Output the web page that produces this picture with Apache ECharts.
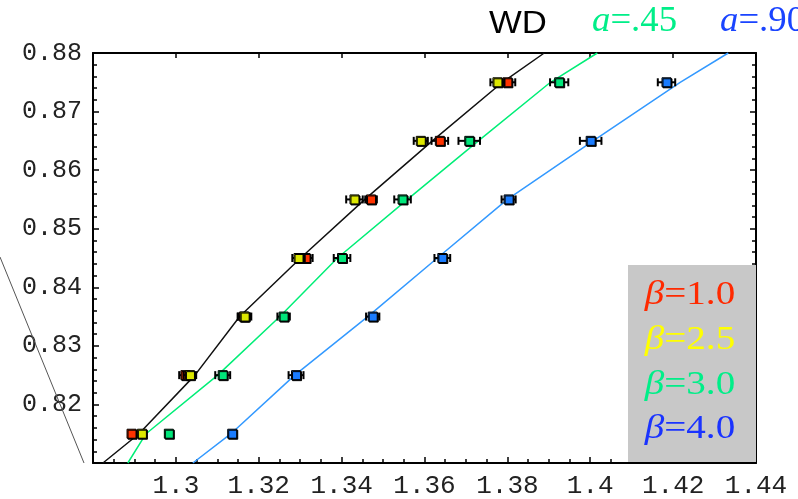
<!DOCTYPE html>
<html>
<head>
<meta charset="utf-8">
<script src="https://cdn.jsdelivr.net/npm/echarts@6/dist/echarts.min.js"></script>
<style>
html,body{margin:0;padding:0;background:#fff;}
#chart{width:798px;height:499px;}
</style>
</head>
<body>
<div id="chart"></div>
<script>
// ---- data ----
const rows = [0.815, 0.825, 0.835, 0.845, 0.855, 0.865, 0.875];
const redX    = [1.2893, 1.3023, 1.3164, 1.3313, 1.3471, 1.3637, 1.3800];
const yellowX = [1.2918, 1.3034, 1.3166, 1.3296, 1.3431, 1.3591, 1.3776];
const greenX  = [1.2983, 1.3113, 1.3260, 1.3401, 1.3547, 1.3708, 1.3925];
const blueX   = [1.3136, 1.3290, 1.3475, 1.3643, 1.3803, 1.4001, 1.4184];
const redErr    = [0.0008, 0.0015, 0.0015, 0.0017, 0.0014, 0.0020, 0.0019];
const yellowErr = [0.0008, 0.0015, 0.0016, 0.0015, 0.0020, 0.0017, 0.0017];
const greenErr  = [0.0008, 0.0018, 0.0015, 0.0020, 0.0020, 0.0026, 0.0022];
const blueErr   = [0.0008, 0.0018, 0.0016, 0.0019, 0.0017, 0.0026, 0.0021];

const lineY     = [0.81, 0.815, 0.825, 0.835, 0.845, 0.855, 0.865, 0.875, 0.88];
const wdLineX   = [1.2824, 1.2911, 1.3046, 1.3154, 1.3301, 1.3456, 1.3619, 1.3788, 1.3889];
const a45LineX  = [1.2884, 1.2928, 1.3101, 1.3251, 1.3390, 1.3559, 1.3730, 1.3904, 1.4017];
const a90LineX  = [1.3041, 1.3133, 1.3287, 1.3463, 1.3631, 1.3800, 1.4007, 1.4217, 1.4333];

const xMin = 1.28, xMax = 1.44, xStep = 0.02;
const yMin = 0.81, yMax = 0.88, yStep = 0.01;

const betaLabels = ['1.0', '2.5', '3.0', '4.0'];
const betaColors = ['#ff2a00', '#ffff00', '#00ee88', '#1a33ff'];
const pointColors = ['#ff3300', '#dde800', '#00e67a', '#1a7cff'];

// ---- build ----
const chart = echarts.init(document.getElementById('chart'));

function pairs(xs, ys) { return xs.map((x, i) => [x, ys[i]]); }
function errData(xs, errs) { return xs.map((x, i) => [x, rows[i], errs[i]]); }

function errSeries(xs, errs, z) {
  return {
    type: 'custom', z: z, silent: true,
    data: errData(xs, errs),
    encode: { x: 0, y: 1 },
    renderItem: function (params, api) {
      const y = api.value(1), x = api.value(0), e = api.value(2);
      const p1 = api.coord([x - e, y]);
      const p2 = api.coord([x + e, y]);
      const st = { stroke: '#000', lineWidth: 2 };
      return {
        type: 'group',
        children: [
          { type: 'line', shape: { x1: p1[0], y1: p1[1], x2: p2[0], y2: p2[1] }, style: st },
          { type: 'line', shape: { x1: p1[0], y1: p1[1] - 4, x2: p1[0], y2: p1[1] + 4 }, style: st },
          { type: 'line', shape: { x1: p2[0], y1: p2[1] - 4, x2: p2[0], y2: p2[1] + 4 }, style: st }
        ]
      };
    }
  };
}
function ptSeries(xs, color, z) {
  return {
    type: 'scatter', z: z, silent: true,
    data: pairs(xs, rows),
    symbol: 'rect', symbolSize: 9,
    itemStyle: { color: color, borderColor: '#000', borderWidth: 1, opacity: 1,
      shadowColor: '#000', shadowOffsetX: 1, shadowOffsetY: 1, shadowBlur: 0 }
  };
}
function lineSeries(xs, color) {
  return {
    type: 'line', z: 2, silent: true, showSymbol: false, smooth: false,
    data: pairs(xs, lineY),
    lineStyle: { color: color, width: 1.5 }
  };
}

const fmtX = v => (Math.abs(v - xMin) < 1e-9) ? '' : String(parseFloat(v.toFixed(2)));
const fmtY = v => (Math.abs(v - yMin) < 1e-9) ? '' : v.toFixed(2);

const legendY = [295, 340, 385, 429];
const legendTexts = betaLabels.map((b, i) => ({
  type: 'text', z: 21,
  x: 690, y: legendY[i], scaleX: 1.15,
  style: {
    text: '{g|β}{n|=' + b + '}',
    align: 'center', verticalAlign: 'middle',
    rich: {
      g: { fontFamily: 'Liberation Serif', fontStyle: 'italic', fontSize: 34, fill: betaColors[i] },
      n: { fontFamily: 'Liberation Serif', fontSize: 34, fill: betaColors[i] }
    }
  }
}));

const option = {
  animation: false,
  backgroundColor: '#fff',
  grid: { left: 93, right: 42, top: 53, bottom: 36, containLabel: false },
  xAxis: [{
    type: 'value', min: xMin, max: xMax, interval: xStep,
    axisLine: { show: true, lineStyle: { color: '#000', width: 2 } },
    axisTick: { show: true, inside: true, length: 6, lineStyle: { color: '#000', width: 1.5 } },
    minorTick: { show: true, splitNumber: 4, length: 4, lineStyle: { color: '#000', width: 1.5 } },
    splitLine: { show: false },
    axisLabel: { formatter: fmtX, margin: 10, fontFamily: 'Liberation Mono', fontSize: 26, color: '#222' }
  }, {
    type: 'value', position: 'top', min: xMin, max: xMax, interval: xStep,
    axisLine: { show: true, lineStyle: { color: '#000', width: 2 } },
    axisTick: { show: true, inside: true, length: 5, lineStyle: { color: '#000', width: 1.5 } },
    splitLine: { show: false },
    axisLabel: { show: false }
  }],
  yAxis: [{
    type: 'value', min: yMin, max: yMax, interval: yStep,
    axisLine: { show: true, lineStyle: { color: '#000', width: 2 } },
    axisTick: { show: true, inside: true, length: 6, lineStyle: { color: '#000', width: 1.5 } },
    minorTick: { show: true, splitNumber: 5, length: 4, lineStyle: { color: '#000', width: 1.5 } },
    splitLine: { show: false },
    axisLabel: { formatter: fmtY, margin: 11, fontFamily: 'Liberation Mono', fontSize: 25, color: '#222' }
  }, {
    type: 'value', position: 'right', min: yMin, max: yMax, interval: yStep,
    axisLine: { show: true, lineStyle: { color: '#000', width: 2 } },
    axisTick: { show: true, inside: true, length: 6, lineStyle: { color: '#000', width: 1.5 } },
    minorTick: { show: true, splitNumber: 5, length: 4, lineStyle: { color: '#000', width: 1.5 } },
    splitLine: { show: false },
    axisLabel: { show: false }
  }],
  series: [
    lineSeries(wdLineX, '#111'),
    lineSeries(a45LineX, '#00ee77'),
    lineSeries(a90LineX, '#3399ff'),
    errSeries(redX, redErr, 3), ptSeries(redX, pointColors[0], 4),
    errSeries(yellowX, yellowErr, 5), ptSeries(yellowX, pointColors[1], 6),
    errSeries(greenX, greenErr, 7), ptSeries(greenX, pointColors[2], 8),
    errSeries(blueX, blueErr, 9), ptSeries(blueX, pointColors[3], 10)
  ],
  graphic: [
    { type: 'line', shape: { x1: 0, y1: 257, x2: 84, y2: 463 }, style: { stroke: '#555', lineWidth: 1 }, z: 1 },
    { type: 'rect', shape: { x: 628, y: 265, width: 128, height: 197 }, style: { fill: '#c8c8c8' }, z: 20 }
  ].concat(legendTexts).concat([
    { type: 'text', x: 518, y: 24, z: 21, scaleX: 1.12,
      style: { text: 'WD', align: 'center', verticalAlign: 'middle',
        fontFamily: 'Liberation Sans', fontSize: 31, fill: '#000' } },
    { type: 'text', x: 592, y: 22, z: 21, scaleX: 1.05,
      style: { text: '{g|a}{n|=.45}', verticalAlign: 'middle',
        rich: { g: { fontFamily: 'Liberation Serif', fontStyle: 'italic', fontSize: 35, fill: '#00ee88' },
                n: { fontFamily: 'Liberation Serif', fontSize: 35, fill: '#00ee88' } } } },
    { type: 'text', x: 720, y: 22, z: 21, scaleX: 1.05,
      style: { text: '{g|a}{n|=.90}', verticalAlign: 'middle',
        rich: { g: { fontFamily: 'Liberation Serif', fontStyle: 'italic', fontSize: 35, fill: '#1a44ff' },
                n: { fontFamily: 'Liberation Serif', fontSize: 35, fill: '#1a44ff' } } } }
  ])
};
chart.setOption(option);
</script>
</body>
</html>
